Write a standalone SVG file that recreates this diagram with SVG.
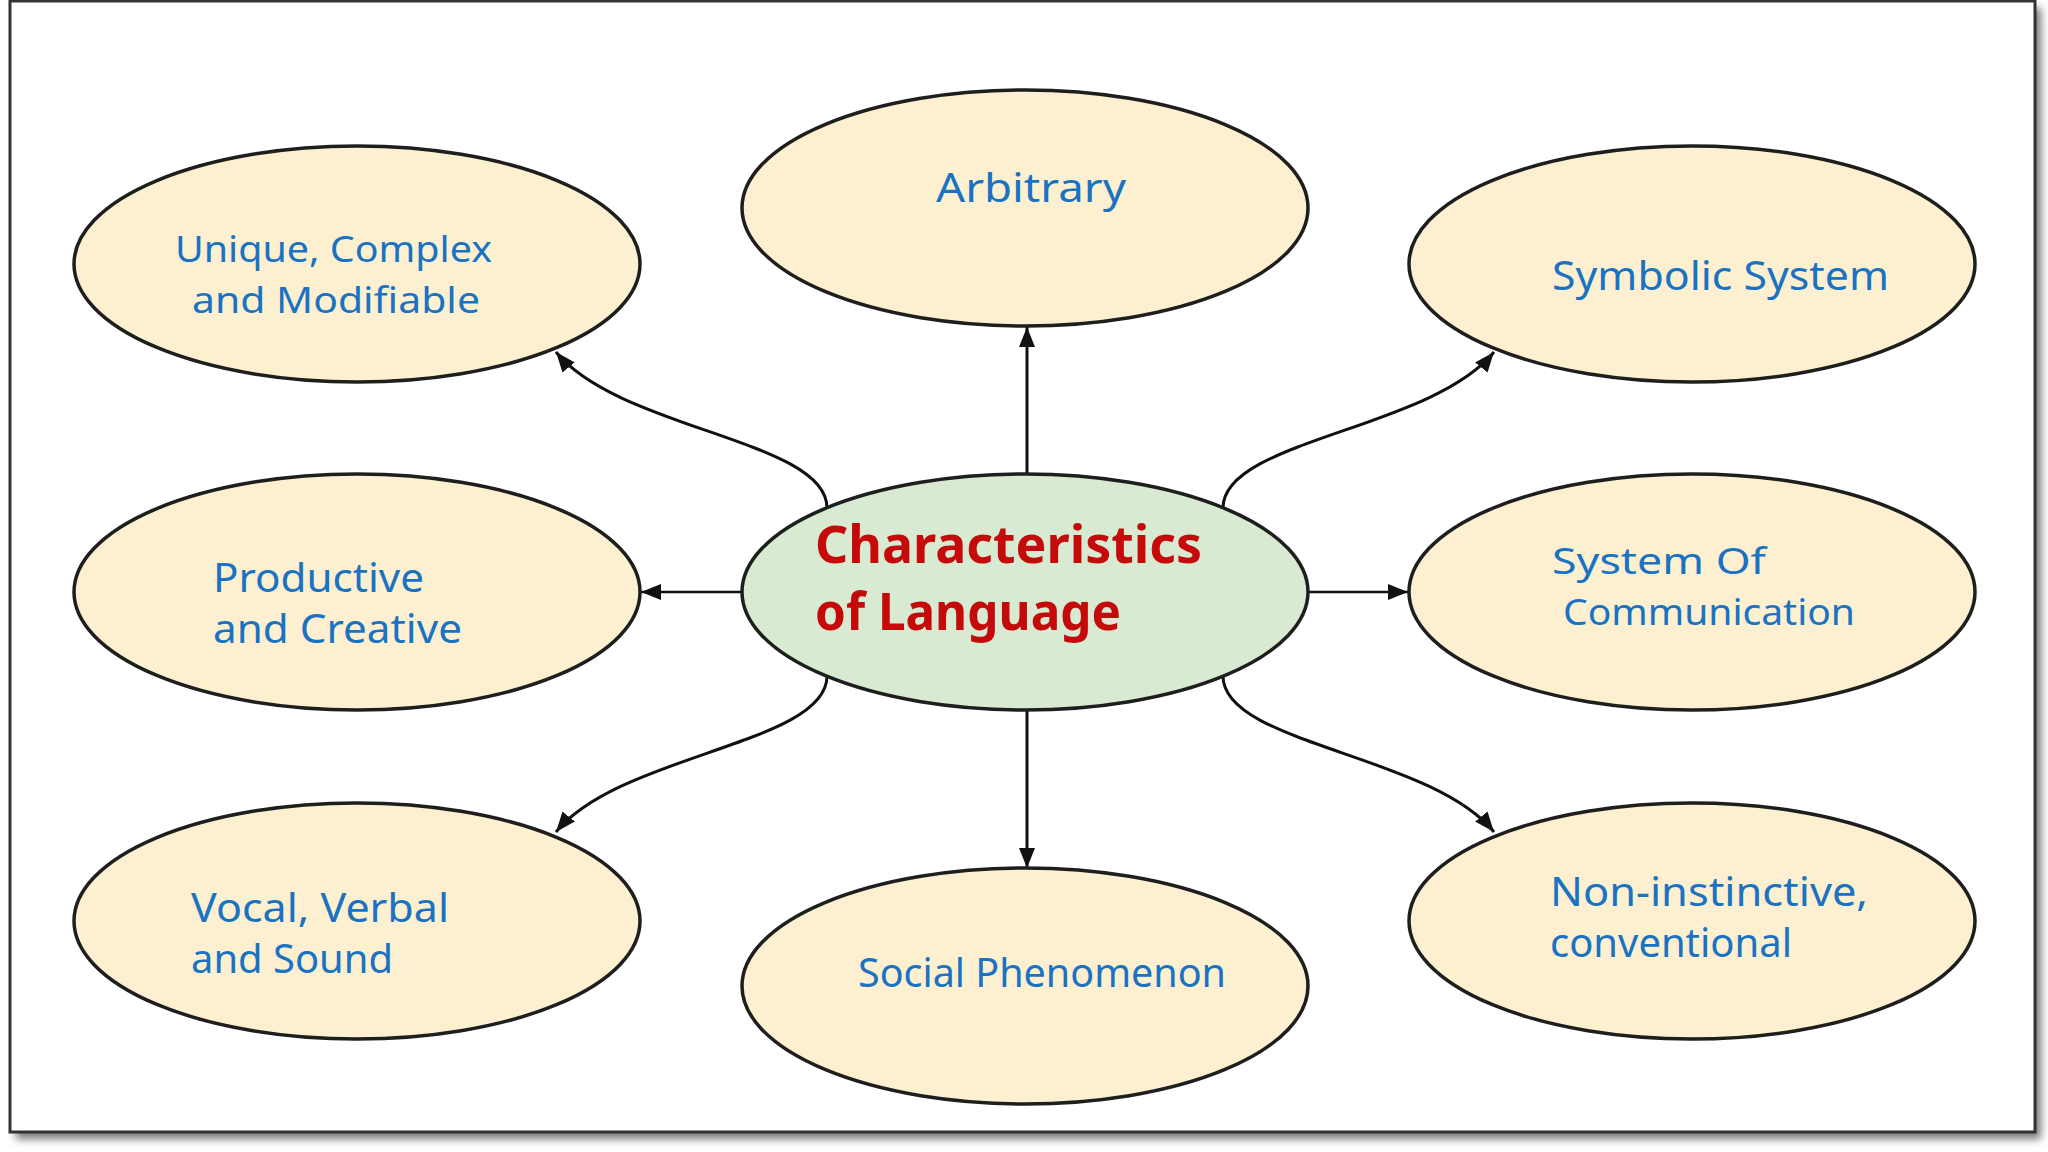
<svg xmlns="http://www.w3.org/2000/svg" width="2048" height="1152" viewBox="0 0 2048 1152">
<style>
.node{fill:#FCF0D0;stroke:#1E1E1E;stroke-width:3.5}
.center{fill:#D8EAD2;stroke:#1E1E1E;stroke-width:3.5}
.lbl{font-family:"Comic Sans MS","Noto Sans",sans-serif;font-size:40px;fill:#1A72C2}
.tight{font-size:37px}
.title{font-family:"Comic Sans MS","Noto Sans",sans-serif;font-size:52px;font-weight:bold;fill:#C40A0A}
.conn path,.conn line{fill:none;stroke:#111;stroke-width:3}
</style>
<defs>
<marker id="ah" markerUnits="userSpaceOnUse" markerWidth="22" markerHeight="18" refX="20" refY="8" orient="auto">
<path d="M0,0 L20,8 L0,16 Z" fill="#111"/>
</marker>
<filter id="sh" x="-5%" y="-5%" width="110%" height="110%"><feGaussianBlur stdDeviation="4"/></filter>
</defs>
<rect x="0" y="0" width="2048" height="1152" fill="#ffffff"/>
<rect x="16" y="8" width="2025" height="1131" fill="#777" filter="url(#sh)"/>
<rect x="10" y="1" width="2025" height="1131" fill="#ffffff" stroke="#333" stroke-width="3"/>

<g class="conn">
<line x1="1027" y1="474" x2="1027" y2="327" marker-end="url(#ah)"/>
<line x1="1027" y1="710" x2="1027" y2="868" marker-end="url(#ah)"/>
<line x1="742" y1="592" x2="641" y2="592" style="stroke-width:2.5" marker-end="url(#ah)"/>
<line x1="1307" y1="592" x2="1408" y2="592" style="stroke-width:2.5" marker-end="url(#ah)"/>
<path d="M827,508 C827,440 620,430 556,352" marker-end="url(#ah)"/>
<path d="M1223,508 C1223,440 1430,430 1494,352" marker-end="url(#ah)"/>
<path d="M827,676 C827,744 620,754 556,832" marker-end="url(#ah)"/>
<path d="M1223,676 C1223,744 1430,754 1494,832" marker-end="url(#ah)"/>
</g>

<g id="center">
<ellipse class="center" cx="1025" cy="592" rx="283" ry="118"/>
<text class="title" x="815" y="563" textLength="387" lengthAdjust="spacingAndGlyphs">Characteristics</text>
<text class="title" x="815" y="630" textLength="306" lengthAdjust="spacingAndGlyphs">of Language</text>
</g>
<g id="arbitrary">
<ellipse class="node" cx="1025" cy="208" rx="283" ry="118"/>
<text class="lbl" x="936" y="202" textLength="190" lengthAdjust="spacingAndGlyphs">Arbitrary</text>
</g>
<g id="unique">
<ellipse class="node" cx="357" cy="264" rx="283" ry="118"/>
<text class="lbl tight" x="175" y="262" textLength="317" lengthAdjust="spacingAndGlyphs">Unique, Complex</text>
<text class="lbl tight" x="192" y="313" textLength="288" lengthAdjust="spacingAndGlyphs">and Modifiable</text>
</g>
<g id="symbolic">
<ellipse class="node" cx="1692" cy="264" rx="283" ry="118"/>
<text class="lbl" x="1552" y="290" textLength="337" lengthAdjust="spacingAndGlyphs">Symbolic System</text>
</g>
<g id="productive">
<ellipse class="node" cx="357" cy="592" rx="283" ry="118"/>
<text class="lbl" x="213" y="592" textLength="211" lengthAdjust="spacingAndGlyphs">Productive</text>
<text class="lbl" x="213" y="643" textLength="249" lengthAdjust="spacingAndGlyphs">and Creative</text>
</g>
<g id="communication">
<ellipse class="node" cx="1692" cy="592" rx="283" ry="118"/>
<text class="lbl tight" x="1552" y="574" textLength="214" lengthAdjust="spacingAndGlyphs">System Of</text>
<text class="lbl tight" x="1563" y="625" textLength="292" lengthAdjust="spacingAndGlyphs">Communication</text>
</g>
<g id="vocal">
<ellipse class="node" cx="357" cy="921" rx="283" ry="118"/>
<text class="lbl" x="191" y="922" textLength="258" lengthAdjust="spacingAndGlyphs">Vocal, Verbal</text>
<text class="lbl" x="191" y="973" textLength="202" lengthAdjust="spacingAndGlyphs">and Sound</text>
</g>
<g id="social">
<ellipse class="node" cx="1025" cy="986" rx="283" ry="118"/>
<text class="lbl" x="858" y="987" textLength="368" lengthAdjust="spacingAndGlyphs">Social Phenomenon</text>
</g>
<g id="noninstinctive">
<ellipse class="node" cx="1692" cy="921" rx="283" ry="118"/>
<text class="lbl" x="1550" y="906" textLength="318" lengthAdjust="spacingAndGlyphs">Non-instinctive,</text>
<text class="lbl" x="1550" y="957" textLength="242" lengthAdjust="spacingAndGlyphs">conventional</text>
</g>
</svg>
